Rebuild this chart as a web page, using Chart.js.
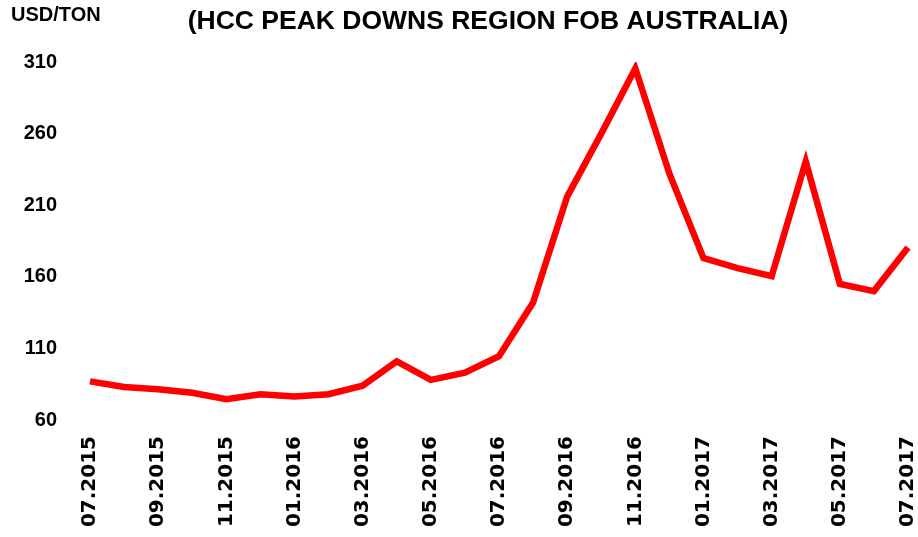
<!DOCTYPE html>
<html>
<head>
<meta charset="utf-8">
<script src="https://cdn.jsdelivr.net/npm/chart.js@4"></script>
<style>
  html, body { margin: 0; padding: 0; background: #fff; }
  #wrap { width: 918px; height: 537px; position: relative; }
</style>
</head>
<body>
<div id="wrap"><canvas id="coalChart"></canvas></div>
<script>
// monthly HCC prices, 07.2015 - 07.2017
const months = ['07.2015', '08.2015', '09.2015', '10.2015', '11.2015', '12.2015',
  '01.2016', '02.2016', '03.2016', '04.2016', '05.2016', '06.2016',
  '07.2016', '08.2016', '09.2016', '10.2016', '11.2016', '12.2016',
  '01.2017', '02.2017', '03.2017', '04.2017', '05.2017', '06.2017', '07.2017'];
const prices = [87, 83, 81.5, 79, 74.5, 78, 76.5, 78, 84, 101, 88, 93,
  104.5, 142, 216, 260, 305.5, 232, 173, 166, 160.5, 240.5, 155, 150, 180.5];
const yTicks = [60, 110, 160, 210, 260, 310];

const titleText = '(HCC PEAK DOWNS REGION FOB AUSTRALIA)';
const unitText = 'USD/TON';

// title and unit label drawn on top of the canvas
const headerText = {
  id: 'headerText',
  afterDraw(chart) {
    const c = chart.ctx;
    c.save();
    c.fillStyle = '#000';
    c.textBaseline = 'middle';
    c.font = 'bold 20px "Liberation Sans", Arial, sans-serif';
    c.textAlign = 'left';
    c.fillText(unitText, 11, 15);
    c.font = 'bold 26.5px "Liberation Sans", Arial, sans-serif';
    c.textAlign = 'center';
    c.fillText(titleText, 488, 22);
    c.restore();
  }
};

const ctx = document.getElementById('coalChart').getContext('2d');
const coalChart = new Chart(ctx, {
  type: 'line',
  data: {
    labels: months,
    datasets: [{
      data: prices,
      borderColor: '#ff0000',
      borderWidth: 6.5,
      pointRadius: 0,
      tension: 0,
      fill: false
    }]
  },
  options: {
    responsive: true,
    maintainAspectRatio: false,
    animation: false,
    layout: { padding: { top: 62, right: 10, bottom: 0, left: 0 } },
    plugins: {
      legend: { display: false },
      tooltip: { enabled: false },
      title: { display: false }
    },
    scales: {
      x: {
        grid: { display: false },
        border: { display: false },
        afterFit: axis => {
          axis.height = 117;
          axis.paddingLeft = 0;
          axis.paddingRight = 0;
        },
        ticks: {
          autoSkip: false,
          maxRotation: 90,
          minRotation: 90,
          padding: 8,
          color: '#000',
          font: { family: '"DejaVu Sans", sans-serif', size: 20, weight: 'bold' },
          callback: function (val, i) { return i % 2 === 0 ? months[i] : ''; }
        }
      },
      y: {
        min: yTicks[0],
        max: yTicks[yTicks.length - 1],
        grid: { display: false },
        border: { display: false },
        afterFit: axis => { axis.width = 90; },
        afterBuildTicks: axis => { axis.ticks = yTicks.map(v => ({ value: v })); },
        ticks: {
          padding: 25,
          color: '#000',
          font: { family: '"Liberation Sans", Arial, sans-serif', size: 20, weight: 'bold' }
        }
      }
    }
  },
  plugins: [headerText]
});
</script>
</body>
</html>
